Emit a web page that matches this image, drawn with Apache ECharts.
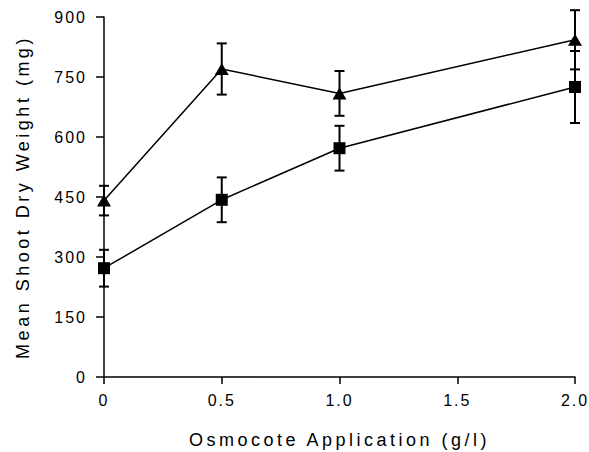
<!DOCTYPE html>
<html>
<head>
<meta charset="utf-8">
<script src="https://cdn.jsdelivr.net/npm/echarts@6/dist/echarts.min.js"></script>
<style>
  html, body { margin: 0; padding: 0; background: #fff; }
  #chart { width: 589px; height: 452px; }
</style>
</head>
<body>
<div id="chart"></div>
<script>
// ---- data ----
const xValues = [0, 0.5, 1.0, 2.0];
const triangleMeans = [441, 770, 709, 843];
const triangleErrors = [37, 64, 56, 74];
const squareMeans = [272, 443, 572, 725];
const squareErrors = [46, 56, 56, 90];
const xTicks = [0, 0.5, 1.0, 1.5, 2.0];
const xTickLabels = ['0', '0.5', '1.0', '1.5', '2.0'];
const yTicks = [0, 150, 300, 450, 600, 750, 900];
const xTitle = 'Osmocote Application (g/l)';
const yTitle = 'Mean Shoot Dry Weight (mg)';

const FONT = '"Liberation Sans", Arial, Helvetica, sans-serif';

function pairs(xs, ys) { return xs.map((x, i) => [x, ys[i]]); }
function errData(xs, ys, es) { return xs.map((x, i) => [x, ys[i] - es[i], ys[i] + es[i]]); }

function errRender(params, api) {
  const x = api.value(0);
  const lo = api.coord([x, api.value(1)]);
  const hi = api.coord([x, api.value(2)]);
  const w = 5;
  const st = { stroke: '#000', lineWidth: 2 };
  return {
    type: 'group',
    children: [
      { type: 'line', shape: { x1: lo[0], y1: lo[1], x2: hi[0], y2: hi[1] }, style: st },
      { type: 'line', shape: { x1: lo[0] - w, y1: lo[1], x2: lo[0] + w, y2: lo[1] }, style: st },
      { type: 'line', shape: { x1: hi[0] - w, y1: hi[1], x2: hi[0] + w, y2: hi[1] }, style: st }
    ]
  };
}

const chart = echarts.init(document.getElementById('chart'), null, { renderer: 'svg' });
chart.setOption({
  animation: false,
  backgroundColor: '#fff',
  grid: { left: 104, right: 14, top: 17, bottom: 75, outerBoundsMode: 'none' },
  xAxis: {
    type: 'value', min: 0, max: 2, interval: 0.5,
    name: xTitle, nameLocation: 'middle', nameGap: 54,
    nameTextStyle: { fontFamily: FONT, fontSize: 18, color: '#000' },
    axisLine: { lineStyle: { color: '#000', width: 1.5 } },
    axisTick: { show: true, inside: false, length: 7, lineStyle: { color: '#000', width: 1.5 } },
    axisLabel: {
      fontFamily: FONT, fontSize: 16, color: '#000', margin: 15,
      formatter: v => { const i = xTicks.indexOf(v); return i >= 0 ? xTickLabels[i] : ''; }
    },
    splitLine: { show: false }
  },
  yAxis: {
    type: 'value', min: 0, max: 900, interval: 150,
    name: yTitle, nameLocation: 'middle', nameGap: 72, nameRotate: 90,
    nameTextStyle: { fontFamily: FONT, fontSize: 18, color: '#000' },
    axisLine: { show: true, lineStyle: { color: '#000', width: 1.5 } },
    axisTick: { show: true, inside: false, length: 8, lineStyle: { color: '#000', width: 1.5 } },
    axisLabel: {
      fontFamily: FONT, fontSize: 16, color: '#000', margin: 17,
      formatter: v => (yTicks.indexOf(v) >= 0 ? String(v) : '')
    },
    splitLine: { show: false }
  },
  series: [
    {
      type: 'line', data: pairs(xValues, triangleMeans),
      symbol: 'triangle', symbolSize: [14, 12], showSymbol: true,
      lineStyle: { color: '#000', width: 1.5 },
      itemStyle: { color: '#000' }, z: 3
    },
    {
      type: 'line', data: pairs(xValues, squareMeans),
      symbol: 'rect', symbolSize: 12, showSymbol: true,
      lineStyle: { color: '#000', width: 1.5 },
      itemStyle: { color: '#000' }, z: 3
    },
    { type: 'custom', data: errData(xValues, triangleMeans, triangleErrors), renderItem: errRender, clip: false, z: 2 },
    { type: 'custom', data: errData(xValues, squareMeans, squareErrors), renderItem: errRender, clip: false, z: 2 }
  ]
});

function spaceText() {
  document.querySelectorAll('#chart svg text').forEach(t => {
    const s = t.textContent || '';
    t.setAttribute('letter-spacing', s.length > 5 ? '3.5px' : '2px');
  });
}
spaceText();
chart.on('finished', spaceText);
setTimeout(spaceText, 50);
</script>
</body>
</html>
